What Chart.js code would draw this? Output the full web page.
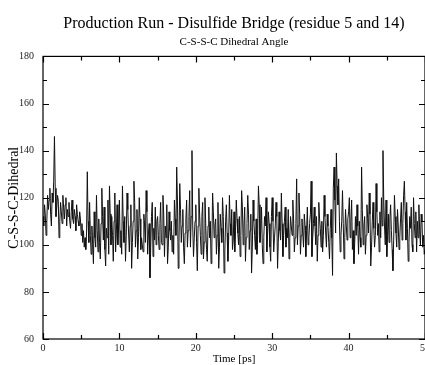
<!DOCTYPE html>
<html>
<head>
<meta charset="utf-8">
<script src="https://cdn.jsdelivr.net/npm/chart.js@4"></script>
<style>
  body{margin:0;background:#fff;}
  #chart{display:block;}
</style>
</head>
<body>
<canvas id="chart" width="425" height="365"></canvas>
<script>
// C-S-S-C dihedral (deg), one sample every 0.1 ps over the 50 ps run
const timeStep=0.1
const dihedral=[
  // 0 - 5 ps
  112,108,117,113,104,110,121,115,119,124,113,108,122,118,127,146,124,112,116,121,
  119,103,110,118,114,109,121,116,111,117,120,108,115,112,118,110,107,114,119,111,
  109,115,112,106,117,113,110,108,114,111,
  // 5 - 10 ps
  104,109,101,106,99,103,98,105,131,110,101,118,104,96,108,100,92,114,103,99,
  121,106,97,111,101,94,109,124,112,102,116,98,91,107,103,119,96,125,113,100,
  112,104,93,110,122,97,105,117,100,108,
  // 10 - 15 ps
  119,99,106,96,125,110,101,112,93,104,122,115,105,97,108,117,90,101,110,127,
  118,99,106,115,94,103,120,111,98,103,100,97,113,108,101,123,114,96,105,109,
  86,99,112,118,95,107,102,116,100,110,
  // 15 - 20 ps
  112,104,98,109,118,101,100,121,113,95,108,103,117,92,99,114,106,102,110,97,
  104,96,119,111,104,133,119,90,101,126,115,101,108,115,99,92,105,111,119,99,
  106,112,123,99,112,140,108,95,103,110,
  // 20 - 25 ps
  117,101,89,108,124,113,104,96,112,118,94,101,120,109,98,93,108,116,103,110,
  92,99,122,114,103,108,111,96,104,118,90,99,113,107,101,120,112,88,97,110,
  117,105,93,102,121,109,104,115,98,102,
  // 25 - 30 ps
  114,97,106,119,111,105,100,112,95,104,123,116,100,108,116,93,103,109,121,113,
  98,106,113,88,99,119,110,104,98,111,96,104,125,117,101,106,116,100,92,103,
  112,108,120,97,105,114,109,99,93,112,
  // 30 - 35 ps
  120,110,97,103,108,118,112,90,101,114,106,102,122,109,95,104,110,116,99,107,
  103,115,94,103,112,108,104,119,111,97,103,109,128,100,108,122,113,96,104,111,
  105,99,113,108,95,106,116,100,103,109,
  // 35 - 40 ps
  113,127,95,103,109,116,108,100,112,93,104,118,111,107,99,110,97,104,121,112,
  105,99,113,108,101,94,107,115,103,87,124,133,119,105,139,125,117,128,110,97,
  104,110,123,109,94,103,115,108,102,111,
  // 40 - 45 ps
  114,120,103,110,119,98,106,92,101,112,104,117,108,96,110,103,99,133,115,100,
  108,112,96,104,117,111,105,122,113,91,99,110,118,107,99,104,126,114,104,109,
  97,114,103,120,108,140,119,108,100,119,
  // 45 - 50 ps
  95,104,113,101,111,117,106,98,89,102,121,112,105,99,115,108,98,103,111,118,
  102,109,121,127,114,102,118,107,93,101,112,107,116,100,97,120,109,103,114,97,
  110,103,117,106,100,113,110,99,104,96,
  98
]

const xMajor=[0,10,20,30,40,50]
const xMinor=[5,15,25,35,45]
const yMajor=[60,80,100,120,140,160,180]
const yMinor=[70,90,110,130,150,170]

const serif="'Liberation Serif','DejaVu Serif',serif"

// frame box with inward ticks on all four sides
const frameTicks={
  id:"frameTicks",
  afterDatasetsDraw(chart){
    const {ctx,chartArea:a,scales:{x,y}}=chart
    ctx.save()
    ctx.strokeStyle="#000"
    ctx.lineWidth=1.2
    ctx.strokeRect(a.left,a.top,a.right-a.left,a.bottom-a.top)
    ctx.beginPath()
    const xt=(vals,len)=>vals.forEach(v=>{
      const px=Math.round(x.getPixelForValue(v))+0.5
      ctx.moveTo(px,a.bottom);ctx.lineTo(px,a.bottom-len)
      ctx.moveTo(px,a.top);ctx.lineTo(px,a.top+len)
    })
    const yt=(vals,len)=>vals.forEach(v=>{
      const py=Math.round(y.getPixelForValue(v))+0.5
      ctx.moveTo(a.left,py);ctx.lineTo(a.left+len,py)
      ctx.moveTo(a.right,py);ctx.lineTo(a.right-len,py)
    })
    xt(xMajor,6);xt(xMinor,4)
    yt(yMajor,6);yt(yMinor,4)
    ctx.stroke()
    ctx.restore()
  }
}

const points=dihedral.map((v,i)=>({x:+(i*timeStep).toFixed(1),y:v}))

new Chart(document.getElementById("chart"),{
  type:"line",
  data:{
    datasets:[{
      data:points,
      borderColor:"#111",
      borderWidth:1,
      pointRadius:0,
      tension:0
    }]
  },
  options:{
    responsive:false,
    animation:false,
    layout:{padding:{left:0,right:0,top:0,bottom:0}},
    plugins:{
      legend:{display:false},
      tooltip:{enabled:false},
      title:{
        display:true,
        fullSize:false,
        text:"Production Run - Disulfide Bridge (residue 5 and 14)",
        color:"#000",
        font:{family:serif,size:16,weight:"normal",lineHeight:1.2},
        padding:{top:14,bottom:2}
      },
      subtitle:{
        display:true,
        fullSize:false,
        text:"C-S-S-C Dihedral Angle",
        color:"#000",
        font:{family:serif,size:11,lineHeight:1.2},
        padding:{top:0,bottom:8}
      }
    },
    scales:{
      x:{
        type:"linear",
        min:0,max:50,
        grid:{display:false,drawTicks:false},
        border:{display:false},
        ticks:{stepSize:10,padding:3,color:"#222",font:{family:serif,size:10},maxRotation:0},
        title:{display:true,text:"Time [ps]",color:"#000",font:{family:serif,size:11,lineHeight:1},padding:{top:0,bottom:0}},
        afterFit(s){s.height=26;s.paddingRight=0;s.paddingLeft=0}
      },
      y:{
        min:60,max:180,
        grid:{display:false,drawTicks:false},
        border:{display:false},
        ticks:{stepSize:20,padding:9,color:"#222",font:{family:serif,size:10}},
        title:{display:true,text:"C-S-S-C-Dihedral",color:"#000",font:{family:serif,size:14,lineHeight:1.2},padding:{top:6,bottom:0}},
        afterFit(s){s.width=43}
      }
    }
  },
  plugins:[frameTicks]
})
</script>
</body>
</html>
